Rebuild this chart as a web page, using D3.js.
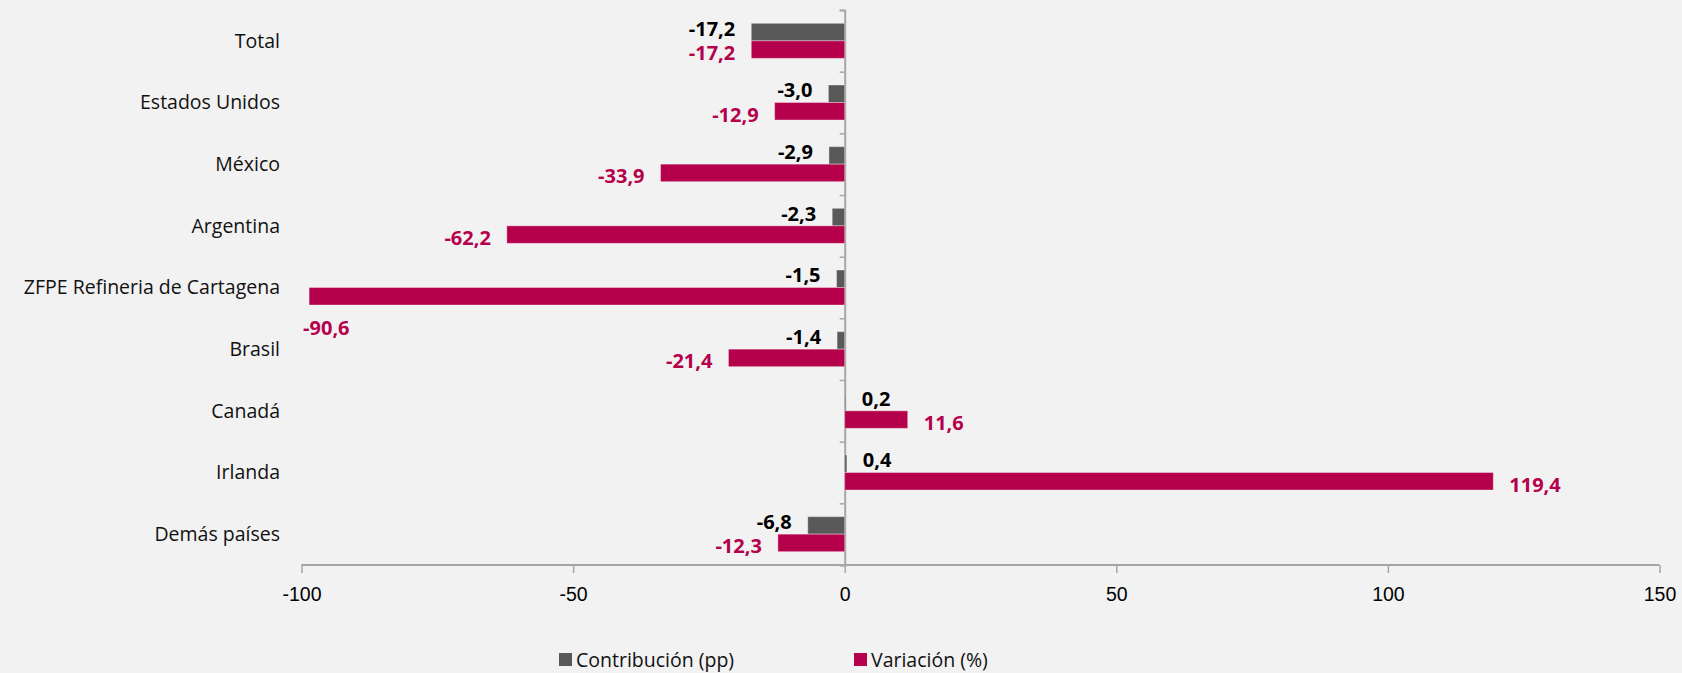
<!DOCTYPE html>
<html>
<head>
<meta charset="utf-8">
<script src="https://cdn.jsdelivr.net/npm/d3@7"></script>
<style>
  html, body { margin: 0; padding: 0; background: #f2f2f2; }
  svg { display: block; font-family: "Open Sans", "Noto Sans", sans-serif; }
</style>
</head>
<body>
<div id="chart"></div>
<script>
const categories = ["Total", "Estados Unidos", "México", "Argentina", "ZFPE Refineria de Cartagena", "Brasil", "Canadá", "Irlanda", "Demás países"];
const contribucion = [-17.2, -3.0, -2.9, -2.3, -1.5, -1.4, 0.2, 0.4, -6.8];
// bar lengths as drawn in the picture
const variacion = [-17.2, -12.9, -33.9, -62.2, -98.6, -21.4, 11.6, 119.4, -12.3];
// printed labels of the variation series (ZFPE bar is longer than its label says)
const variacionLabels = ["-17,2", "-12,9", "-33,9", "-62,2", "-90,6", "-21,4", "11,6", "119,4", "-12,3"];
const xTicks = [-100, -50, 0, 50, 100, 150];
const seriesNames = ["Contribución (pp)", "Variación (%)"];

const width = 1682, height = 673;
const grey = "#595959", magenta = "#b5004b";

const svg = d3.select("#chart").append("svg")
  .attr("width", width)
  .attr("height", height);

svg.append("rect").attr("width", width).attr("height", height).attr("fill", "#f2f2f2");

const x = d3.scaleLinear().domain([-100, 150]).range([301.5, 1659.5]);
const y = d3.scaleBand().domain(categories).range([10, 565]).padding(0);
const barH = 17.5;

const fmt = d3.formatLocale({decimal: ",", thousands: ".", grouping: [3], currency: ["", ""], minus: "-"}).format(".1f");

// x axis
const xAxis = svg.append("g")
  .attr("transform", `translate(0,${y.range()[1]})`)
  .call(d3.axisBottom(x).tickValues(xTicks).tickSize(8).tickPadding(14).tickFormat(d => String(d)));
xAxis.select(".domain").attr("stroke", "#a6a6a6").attr("stroke-width", 2).attr("d", `M${x(-100)},0H${x(150)}`);
xAxis.selectAll(".tick line").attr("stroke", "#a6a6a6").attr("stroke-width", 1.5);
xAxis.selectAll(".tick text").attr("fill", "#000").style("font-size", "19.5px");

// vertical category axis at zero
const yLin = d3.scaleLinear().domain([0, categories.length]).range(y.range());
const yAxis = svg.append("g")
  .attr("transform", `translate(${x(0)},0)`)
  .call(d3.axisLeft(yLin).tickValues(d3.range(categories.length + 1)).tickSize(5).tickFormat(""));
yAxis.select(".domain").attr("stroke", "#a6a6a6").attr("stroke-width", 2);
yAxis.selectAll(".tick line").attr("stroke", "#a6a6a6").attr("stroke-width", 1.5);

// category labels
svg.append("g").selectAll("text")
  .data(categories)
  .join("text")
  .attr("x", 280)
  .attr("y", d => y(d) + y.bandwidth() / 2)
  .attr("dy", "0.35em")
  .attr("text-anchor", "end")
  .style("font-size", "19.5px")
  .attr("fill", "#111")
  .text(d => d);

// bars
const rows = categories.map((c, i) => ({cat: c, c: contribucion[i], v: variacion[i], vl: variacionLabels[i]}));
const mid = d => y(d.cat) + y.bandwidth() / 2;

svg.append("g").selectAll("rect")
  .data(rows)
  .join("rect")
  .attr("x", d => x(Math.min(0, d.c)))
  .attr("y", d => mid(d) - barH)
  .attr("width", d => Math.abs(x(d.c) - x(0)))
  .attr("height", barH)
  .attr("fill", grey)
  .attr("stroke", "#ffffff").attr("stroke-opacity", 0.35).attr("stroke-width", 1);

svg.append("g").selectAll("rect")
  .data(rows)
  .join("rect")
  .attr("x", d => x(Math.min(0, d.v)))
  .attr("y", d => mid(d))
  .attr("width", d => Math.abs(x(d.v) - x(0)))
  .attr("height", barH)
  .attr("fill", magenta)
  .attr("stroke", "#ffffff").attr("stroke-opacity", 0.35).attr("stroke-width", 1);

// data labels
const gap = 16;
svg.append("g").selectAll("text")
  .data(rows)
  .join("text")
  .attr("x", d => d.c < 0 ? x(d.c) - gap : x(d.c) + gap)
  .attr("y", d => mid(d) - barH / 2 - 3.5)
  .attr("dy", "0.35em")
  .attr("text-anchor", d => d.c < 0 ? "end" : "start")
  .style("font-size", "20px").style("font-weight", "bold")
  .attr("fill", "#000")
  .text(d => fmt(d.c));

svg.append("g").selectAll("text")
  .data(rows)
  .join("text")
  .attr("x", d => d.v < 0 ? x(d.v) - gap : x(d.v) + gap)
  .attr("y", d => mid(d) + barH / 2 + 3.5)
  .attr("dy", "0.35em")
  .attr("text-anchor", d => d.v < 0 ? "end" : "start")
  .style("font-size", "20px").style("font-weight", "bold")
  .attr("fill", magenta)
  .text(d => d.vl)
  .each(function(d) {
    // label that does not fit left of the bar goes below it
    const w = this.getComputedTextLength();
    if (d.v < 0 && x(d.v) - gap - w < x.range()[0]) {
      d3.select(this)
        .attr("x", x(d.v) - 6)
        .attr("text-anchor", "start")
        .attr("y", mid(d) + barH / 2 + 32);
    }
  });

// legend
const legend = svg.append("g");
const legX = [559, 854];
const legColors = [grey, magenta];
seriesNames.forEach((name, i) => {
  legend.append("rect")
    .attr("x", legX[i]).attr("y", 653)
    .attr("width", 13).attr("height", 13)
    .attr("fill", legColors[i]);
  legend.append("text")
    .attr("x", legX[i] + 17).attr("y", 660)
    .attr("dy", "0.35em")
    .style("font-size", "19.5px")
    .attr("fill", "#111")
    .text(name);
});
</script>
</body>
</html>
